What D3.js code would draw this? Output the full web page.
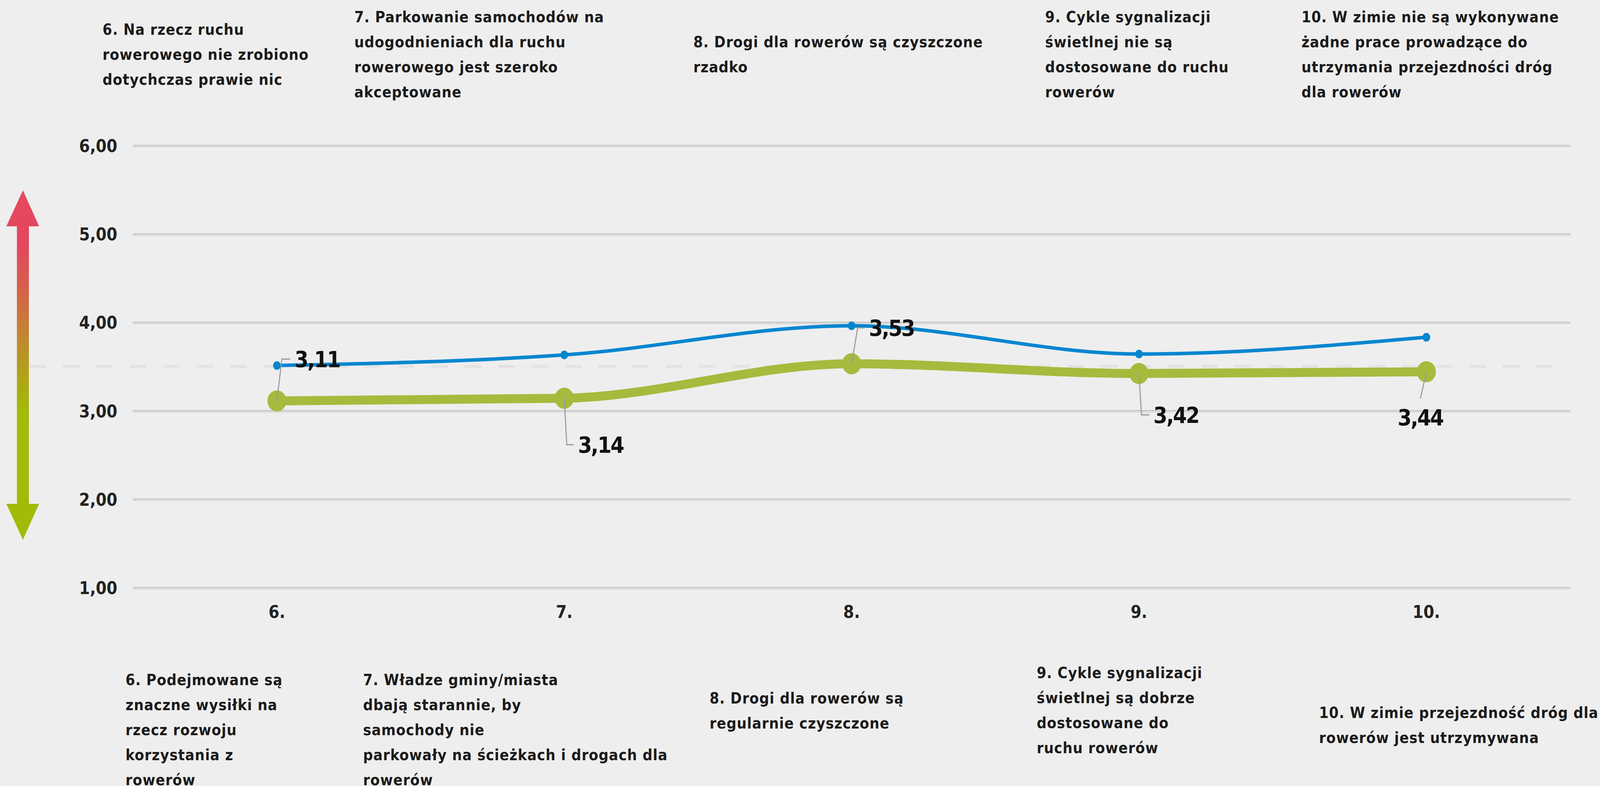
<!DOCTYPE html>
<html>
<head>
<meta charset="utf-8">
<script src="https://cdn.jsdelivr.net/npm/d3@7"></script>
<style>
  html, body { margin: 0; padding: 0; background: #eeeeee; width: 100%; height: 100%; overflow: hidden; }
  .container { width: 100vw; height: 100vh; }
  svg { display: block; }
</style>
</head>
<body>
<div class="container"></div>
<script>
// data
var categories = ["6.", "7.", "8.", "9.", "10."];
var greenValues = [3.11, 3.14, 3.53, 3.42, 3.44];
var blueValues = [3.51, 3.63, 3.96, 3.64, 3.83];
var yTicks = [1, 2, 3, 4, 5, 6];
var referenceValue = 3.5;

var topLabels = [
  ["6. Na rzecz ruchu", "rowerowego nie zrobiono", "dotychczas prawie nic"],
  ["7. Parkowanie samochodów na", "udogodnieniach dla ruchu", "rowerowego jest szeroko", "akceptowane"],
  ["8. Drogi dla rowerów są czyszczone", "rzadko"],
  ["9. Cykle sygnalizacji", "świetlnej nie są", "dostosowane do ruchu", "rowerów"],
  ["10. W zimie nie są wykonywane", "żadne prace prowadzące do", "utrzymania przejezdności dróg", "dla rowerów"]
];
var bottomLabels = [
  ["6. Podejmowane są", "znaczne wysiłki na", "rzecz rozwoju", "korzystania z", "rowerów"],
  ["7. Władze gminy/miasta", "dbają starannie, by", "samochody nie", "parkowały na ścieżkach i drogach dla", "rowerów"],
  ["8. Drogi dla rowerów są", "regularnie czyszczone"],
  ["9. Cykle sygnalizacji", "świetlnej są dobrze", "dostosowane do", "ruchu rowerów"],
  ["10. W zimie przejezdność dróg dla", "rowerów jest utrzymywana"]
];

// layout
var W = 4539, H = 2011;
var plotLeft = 378, plotRight = 4454;
var topLabelX = [291, 1005, 1967, 2965, 3692];
var bottomLabelX = [356, 1030, 2013, 2941, 3742];
var bottomLabelY = [1753, 1753, 1800, 1735, 1837];
var lineH = 64;
// leader offsets for value labels: elbow (ex,ey), end x, text anchor
var leaders = [
  {ex: 14, ey: -107, tx: 38, anchor: "start"},
  {ex: 7, ey: 119, tx: 27, anchor: "start"},
  {ex: 17, ey: -92, tx: 37, anchor: "start"},
  {ex: 7, ey: 106, tx: 29, anchor: "start"},
  {ex: -17, ey: 69, tx: -17, anchor: "middle"}
];

var font = "'DejaVu Sans', Verdana, sans-serif";
var blue = "#0586d0", green = "#a7ba3d";

// the whole drawing is laid out in 4539x2011 units and stretched to the window
var svg = d3.select(".container").append("svg")
    .attr("viewBox", "0 0 " + W + " " + H)
    .attr("preserveAspectRatio", "none")
    .attr("width", "100%")
    .attr("height", "100%");

var x = d3.scalePoint()
    .domain(categories)
    .range([plotLeft, plotRight])
    .padding(0.5);

var y = d3.scaleLinear()
    .domain([1, 6])
    .range([1503, 372]);

// gridlines
var grid = svg.append("g");
grid.selectAll(".band")
  .data(yTicks)
  .enter().append("line")
    .attr("x1", plotLeft).attr("x2", plotRight)
    .attr("y1", function(d) { return y(d) + 3; })
    .attr("y2", function(d) { return y(d) + 3; })
    .attr("stroke", "#dcdcdc")
    .attr("stroke-width", 5)
    .attr("stroke-linecap", "round");
grid.selectAll(".grid")
  .data(yTicks)
  .enter().append("line")
    .attr("x1", plotLeft).attr("x2", plotRight)
    .attr("y1", function(d) { return y(d); })
    .attr("y2", function(d) { return y(d); })
    .attr("stroke", "#c9c9c9")
    .attr("stroke-width", 3)
    .attr("stroke-linecap", "round");

// y labels
svg.append("g").selectAll("text")
  .data(yTicks)
  .enter().append("text")
    .attr("x", 333)
    .attr("y", function(d) { return y(d) + 17; })
    .attr("text-anchor", "end")
    .style("font-family", font)
    .style("font-weight", 700)
    .style("font-size", "44px")
    .attr("fill", "#222")
    .text(function(d) { return d3.format(".2f")(d).replace(".", ","); });

// x labels
svg.append("g").selectAll("text")
  .data(categories)
  .enter().append("text")
    .attr("x", function(d) { return x(d); })
    .attr("y", 1581)
    .attr("text-anchor", "middle")
    .style("font-family", font)
    .style("font-weight", 700)
    .style("font-size", "44px")
    .attr("fill", "#222")
    .text(function(d) { return d; });

// dashed reference line
svg.append("line")
    .attr("x1", 83).attr("x2", 4448)
    .attr("y1", y(referenceValue)).attr("y2", y(referenceValue))
    .attr("stroke", "#e3e3e3")
    .attr("stroke-width", 8)
    .attr("stroke-dasharray", "47,48");

// gradient arrow on the left
var defs = svg.append("defs");
var grad = defs.append("linearGradient")
    .attr("id", "arrowGrad")
    .attr("gradientUnits", "userSpaceOnUse")
    .attr("x1", 0).attr("x2", 0)
    .attr("y1", 487).attr("y2", 1381);
[[0, "#e54a5f"], [0.15, "#e3465e"], [0.28, "#d6604a"], [0.39, "#c67f36"],
 [0.52, "#b0a11a"], [0.64, "#a3ba08"], [1, "#a2bb06"]]
  .forEach(function(s) {
    grad.append("stop").attr("offset", s[0]).attr("stop-color", s[1]);
  });
svg.append("path")
    .attr("d", "M65,487 L111,579 L82,579 L82,1289 L111,1289 L65,1381 L18,1289 L48,1289 L48,579 L18,579 Z")
    .attr("fill", "url(#arrowGrad)");

// lines
var line = d3.line()
    .x(function(d, i) { return x(categories[i]); })
    .y(function(d) { return y(d); })
    .curve(d3.curveMonotoneX);

svg.append("path")
    .datum(blueValues)
    .attr("d", line)
    .attr("fill", "none")
    .attr("stroke", blue)
    .attr("stroke-width", 9);
svg.append("g").selectAll("circle")
  .data(blueValues)
  .enter().append("circle")
    .attr("cx", function(d, i) { return x(categories[i]); })
    .attr("cy", function(d) { return y(d); })
    .attr("r", 11)
    .attr("fill", blue);

svg.append("path")
    .datum(greenValues)
    .attr("d", line)
    .attr("fill", "none")
    .attr("stroke", green)
    .attr("stroke-width", 23);
svg.append("g").selectAll("circle")
  .data(greenValues)
  .enter().append("circle")
    .attr("cx", function(d, i) { return x(categories[i]); })
    .attr("cy", function(d) { return y(d); })
    .attr("r", 27)
    .attr("fill", green);

// value labels with leader lines
var labels = svg.append("g").selectAll("g")
  .data(greenValues)
  .enter().append("g")
    .attr("transform", function(d, i) {
      return "translate(" + x(categories[i]) + "," + y(d) + ")"; });

labels.append("path")
    .attr("d", function(d, i) {
      var l = leaders[i];
      return "M0,0L" + l.ex + "," + l.ey + "L" + l.tx + "," + l.ey;
    })
    .attr("fill", "none")
    .attr("stroke", "#9a9a9a")
    .attr("stroke-width", 3);

labels.append("text")
    .attr("x", function(d, i) { return leaders[i].anchor == "start" ? leaders[i].tx + 12 : leaders[i].tx; })
    .attr("y", function(d, i) { return leaders[i].anchor == "start" ? leaders[i].ey + 21 : leaders[i].ey + 69; })
    .attr("text-anchor", function(d, i) { return leaders[i].anchor; })
    .style("font-family", font)
    .style("font-weight", 700)
    .style("font-size", "57px")
    .style("letter-spacing", "-3px")
    .attr("fill", "#111")
    .text(function(d) { return d3.format(".2f")(d).replace(".", ","); });

// annotation texts above and below
function addBlock(lines, x0, y0) {
  var t = svg.append("text")
      .style("font-family", font)
      .style("font-weight", 700)
      .style("font-size", "39px")
      .style("letter-spacing", "1.2px")
      .attr("fill", "#1b1b1b");
  lines.forEach(function(s, k) {
    t.append("tspan").attr("x", x0).attr("y", y0 + k * lineH).text(s);
  });
}
topLabels.forEach(function(lines, i) {
  addBlock(lines, topLabelX[i], 153 - (lines.length - 1) * lineH / 2);
});
bottomLabels.forEach(function(lines, i) {
  addBlock(lines, bottomLabelX[i], bottomLabelY[i]);
});
</script>
</body>
</html>
